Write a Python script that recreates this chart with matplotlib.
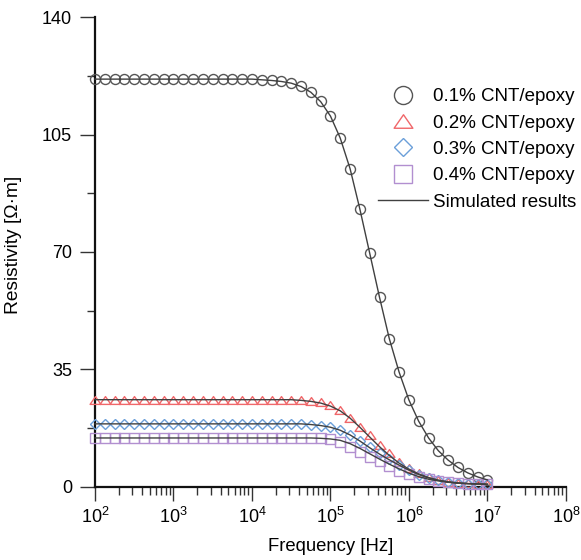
import matplotlib
matplotlib.use('Agg')
import matplotlib.pyplot as plt
from matplotlib.ticker import LogLocator, MultipleLocator, NullFormatter
from matplotlib.lines import Line2D
from matplotlib.path import Path

plt.rcParams['font.family'] = ['Liberation Sans', 'DejaVu Sans']
plt.rcParams['mathtext.default'] = 'regular'

# frequency sweep, 8 points per decade
freq = [1.00e2, 1.33e2, 1.78e2, 2.37e2, 3.16e2, 4.22e2, 5.62e2, 7.50e2,
        1.00e3, 1.33e3, 1.78e3, 2.37e3, 3.16e3, 4.22e3, 5.62e3, 7.50e3,
        1.00e4, 1.33e4, 1.78e4, 2.37e4, 3.16e4, 4.22e4, 5.62e4, 7.50e4,
        1.00e5, 1.33e5, 1.78e5, 2.37e5, 3.16e5, 4.22e5, 5.62e5, 7.50e5,
        1.00e6, 1.33e6, 1.78e6, 2.37e6, 3.16e6, 4.22e6, 5.62e6, 7.50e6,
        1.00e7]

# measured resistivity [Ohm m]
rho_01 = [121.5] * 17 + [121.3, 121.1, 120.9, 120.3, 119.4, 117.7, 114.9,
                         110.6, 104.1, 94.8, 82.9, 69.8, 56.5, 44.1, 34.4,
                         25.9, 19.8, 14.5, 10.8, 8.1, 5.9, 4.1, 2.9, 2.1]
rho_02 = [26.0] * 21 + [25.9, 25.7, 25.4, 24.5, 23.0, 20.5, 18.0, 15.5, 12.5,
                        10.0, 7.5, 5.6, 4.1, 2.9, 2.1, 1.5, 1.3, 1.1, 1.0, 0.9]
rho_03 = [18.8] * 22 + [18.6, 18.3, 17.9, 17.0, 15.5, 13.7, 11.8, 10.0, 8.3,
                        6.6, 5.1, 3.6, 2.6, 2.1, 1.5, 1.2, 1.0, 0.9, 0.8]
rho_04 = [14.6] * 23 + [14.5, 14.3, 13.3, 12.0, 10.5, 9.0, 7.7, 6.1, 4.9,
                        3.9, 2.9, 2.3, 1.8, 1.4, 1.2, 1.0, 0.9, 0.8]

# simulated resistivity [Ohm m]
sim_01 = [121.5] * 17 + [121.3, 121.1, 120.8, 120.3, 119.3, 117.6, 114.8,
                         110.5, 104.0, 94.8, 82.8, 69.7, 56.5, 44.2, 34.2,
                         25.9, 19.6, 14.6, 10.8, 8.0, 5.8, 4.2, 3.0, 2.1]
sim_02 = [26.0] * 21 + [25.8, 25.5, 25.0, 24.1, 22.7, 20.5, 17.8, 14.9, 12.0,
                        9.4, 7.1, 5.3, 3.9, 2.8, 2.0, 1.5, 1.2, 1.0, 0.9, 0.8]
sim_03 = [18.8] * 22 + [18.6, 18.3, 17.8, 16.9, 15.5, 13.7, 11.7, 9.8, 8.1,
                        6.5, 5.0, 3.7, 2.7, 2.0, 1.5, 1.2, 1.0, 0.9, 0.8]
sim_04 = [14.6] * 23 + [14.5, 14.3, 13.9, 12.9, 11.5, 9.9, 8.3, 6.8, 5.4,
                        4.1, 3.1, 2.3, 1.8, 1.4, 1.1, 1.0, 0.9, 0.8]

labels = ['0.1% CNT/epoxy', '0.2% CNT/epoxy', '0.3% CNT/epoxy', '0.4% CNT/epoxy']
colors = ['#555555', '#f0676a', '#6b9fd9', '#b28fd0']
line_color = '#404040'

# flattened triangle, a bit wider than tall
tri = Path([(-0.5, -0.36), (0.5, -0.36), (0.0, 0.36), (-0.5, -0.36)],
           [Path.MOVETO, Path.LINETO, Path.LINETO, Path.CLOSEPOLY])
markers = ['o', tri, 'D', 's']
sizes = [7.2, 7.8, 5.3, 6.8]
legend_sizes = [13, 13.5, 9.2, 13]

fig = plt.figure(figsize=(5.81, 5.60), dpi=100)
ax = fig.add_axes([0.1635, 0.1304, 0.8105, 0.8392])

for rho, sim, c, m, ms in zip([rho_01, rho_02, rho_03, rho_04],
                              [sim_01, sim_02, sim_03, sim_04],
                              colors, markers, sizes):
    ax.plot(freq, rho, linestyle='none', marker=m, ms=ms, mfc='none',
            mec=c, mew=1.0, clip_on=False, zorder=3)
    ax.plot(freq, sim, '-', color=line_color, lw=1.0, clip_on=False, zorder=4)

ax.set_xscale('log')
ax.set_xlim(1e2, 1e8)
ax.set_ylim(0, 140)

ax.xaxis.set_major_locator(LogLocator(base=10, numticks=10))
ax.xaxis.set_minor_locator(LogLocator(base=10, subs=range(2, 10), numticks=100))
ax.xaxis.set_minor_formatter(NullFormatter())
ax.yaxis.set_major_locator(MultipleLocator(35))
ax.yaxis.set_minor_locator(MultipleLocator(17.5))

for side in ['top', 'right']:
    ax.spines[side].set_visible(False)
for side in ['left', 'bottom']:
    ax.spines[side].set_linewidth(1.6)
    ax.spines[side].set_color('#111111')

ax.tick_params(which='major', direction='out', length=10, width=1.0,
               labelsize=13, color='#333333')
ax.tick_params(which='minor', direction='out', length=5.5, width=1.0,
               color='#333333')
ax.tick_params(axis='y', which='major', length=11, pad=5.5)
ax.tick_params(axis='x', which='major', pad=4)

ax.set_xlabel('Frequency [Hz]', fontsize=13.3, labelpad=8.5)
ax.set_ylabel('Resistivity [Ω·m]', fontsize=13.8)
ax.yaxis.set_label_coords(-0.155, 0.515)

handles = [Line2D([], [], linestyle='none', marker=m, ms=ms, mfc='none',
                  mec=c, mew=1.0)
           for m, c, ms in zip(markers, colors, legend_sizes)]
handles.append(Line2D([], [], color=line_color, lw=1.0))
fig.legend(handles, labels + ['Simulated results'], loc='upper left',
           bbox_to_anchor=(0.6506, 0.8423), frameon=False, fontsize=13.5,
           handlelength=2.67, handletextpad=0.27, labelspacing=0.49,
           borderpad=0, borderaxespad=0)

fig.savefig('out.png', dpi=100)
